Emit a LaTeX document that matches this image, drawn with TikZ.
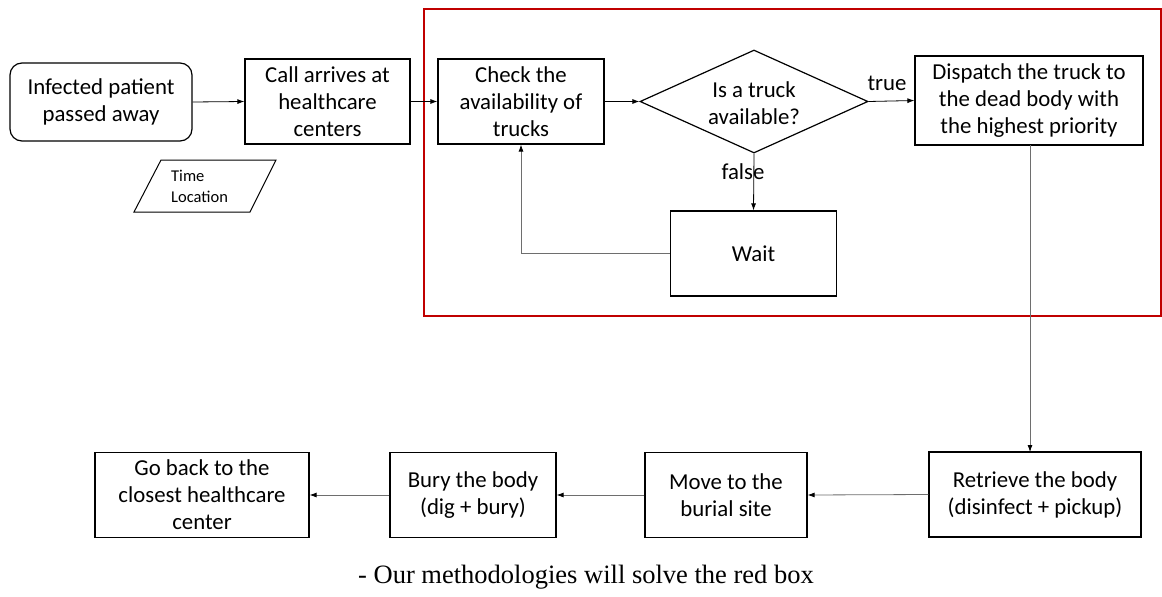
\documentclass[tikz,border=0pt]{standalone}
\usepackage{fontspec}
\setmainfont{Carlito}
\newfontfamily\capfont{Liberation Serif}
\usetikzlibrary{arrows.meta,shapes.geometric}
\definecolor{redbox}{RGB}{192,0,0}
\definecolor{conngray}{RGB}{110,110,110}
\begin{document}
\begin{tikzpicture}[x=1pt,y=-1pt,
  proc/.style={draw=black,line width=1.2pt,inner sep=0pt,align=center,font=\fontsize{22.8}{27}\selectfont},
  conn/.style={draw=black,line width=0.8pt,-{Latex[length=7pt,width=5pt]}},
  gconn/.style={draw=conngray,line width=0.8pt,-{Latex[length=7pt,width=5pt,fill=black,color=black]}},
  lbl/.style={font=\fontsize{22.8}{27}\selectfont,inner sep=1pt}]
\useasboundingbox (0,0) rectangle (1162,597);
\fill[white] (0,0) rectangle (1162,597);
% red box
\draw[redbox,line width=1.6pt] (424,9) rectangle (1161,316);
% nodes
\node[proc,rounded corners=12pt,minimum width=182pt,minimum height=78pt] (inf) at (101,102) {Infected patient\\passed away};
\node[proc,minimum width=165pt,minimum height=85pt] (call) at (327.5,101.5) {Call arrives at\\healthcare\\centers};
\node[proc,minimum width=166pt,minimum height=85pt] (check) at (521,101.5) {Check the\\availability of\\trucks};
\node[draw=black,line width=1.2pt,diamond,inner sep=0pt,minimum width=228pt,minimum height=103pt] (dec) at (754,101.5) {};
\node[lbl,align=center,inner sep=0pt] (dectext) at (754,103) {Is a truck\\available?};
\node[proc,minimum width=228pt,minimum height=89pt] (disp) at (1029,100.5) {Dispatch the truck to\\the dead body with\\the highest priority};
\node[proc,minimum width=166pt,minimum height=85pt] (wait) at (753.5,253.5) {Wait};
\node[proc,minimum width=214pt,minimum height=85pt] (goback) at (202,495) {Go back to the\\closest healthcare\\center};
\node[proc,minimum width=166pt,minimum height=85pt] (bury) at (473,495) {Bury the body\\(dig + bury)};
\node[proc,minimum width=162pt,minimum height=85pt] (move) at (726,495) {Move to the\\burial site};
\node[proc,minimum width=212pt,minimum height=85pt] (retr) at (1035,494.5) {Retrieve the body\\(disinfect + pickup)};
% parallelogram data
\coordinate (p1) at (161,160);
\coordinate (p2) at (276,160);
\coordinate (p3) at (250,212);
\coordinate (p4) at (134,212);
\draw[line width=1pt] (p1) -- (p2) -- (p3) -- (p4) -- cycle;
\node[anchor=west,align=left,inner sep=0pt,font=\fontsize{16.5}{21}\selectfont] (data) at (171,186.5) {Time\\Location};
% connectors
\draw[conn] (inf.east) -- (call.west);
\draw[conn] (call.east) -- (check.west);
\draw[conn] (check.east) -- (dec.west);
\draw[conn] (dec.east) -- (disp.west);
\node[lbl] (ltrue) at (887,83) {true};
\draw[conn] (dec.south) -- (wait.north);
\node[lbl] (lfalse) at (743,172) {false};
\draw[gconn] (wait.west) -| (check.south);
\coordinate (dtop) at (1030,145);
\coordinate (rtop) at (1030,452);
\draw[gconn] (dtop) -- (rtop);
\draw[gconn] (retr.west) -- (move.east);
\draw[gconn] (move.west) -- (bury.east);
\draw[gconn] (bury.west) -- (goback.east);
% caption
\node[font=\capfont\fontsize{26.5}{30}\selectfont,inner sep=0pt] (cap) at (586,577) {- Our methodologies will solve the red box};
\end{tikzpicture}
\end{document}
